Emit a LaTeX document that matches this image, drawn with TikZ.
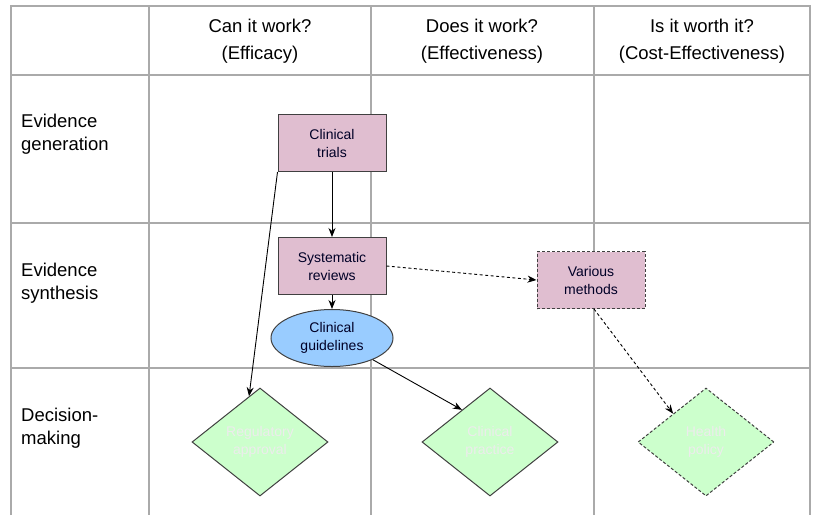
\documentclass[tikz,border=0pt]{standalone}
\usepackage{fontspec}
\setmainfont{Liberation Sans}
\usetikzlibrary{shapes.geometric,arrows.meta,calc}
\definecolor{gridgray}{RGB}{170,170,170}
\definecolor{boxpink}{RGB}{224,190,208}
\definecolor{ellblue}{RGB}{153,204,255}
\definecolor{dmgreen}{RGB}{204,255,204}
\definecolor{edgegray}{RGB}{64,64,64}
\definecolor{ghost}{RGB}{236,236,236}
\begin{document}
\begin{tikzpicture}[x=1pt,y=-1pt,
  gridline/.style={draw=gridgray,line width=1.4pt},
  head/.style={font=\fontsize{18.5}{27}\selectfont,align=center},
  rowlabel/.style={font=\fontsize{18.5}{23}\selectfont,align=left,anchor=west,inner sep=0pt},
  stepbox/.style={draw=edgegray,fill=boxpink,line width=1pt,minimum width=108pt,minimum height=57pt,
    align=center,font=\fontsize{14}{18}\selectfont,text=black!85!blue},
  guide/.style={ellipse,draw=edgegray,fill=ellblue,line width=1pt,minimum width=122pt,minimum height=57pt,
    inner sep=0pt,align=center,font=\fontsize{14}{18}\selectfont,text=black!85!blue},
  decide/.style={diamond,draw=edgegray,fill=dmgreen,line width=1pt,minimum width=136pt,minimum height=108pt,
    inner sep=0pt,aspect=1.26,align=center,font=\fontsize{14}{18}\selectfont,text=ghost},
  link/.style={draw=black,line width=0.9pt,-{Stealth[length=9pt,width=7pt]}},
  dlink/.style={link,dashed,dash pattern=on 3pt off 2.5pt}]
\useasboundingbox (0,0) rectangle (817,515);

% table grid
\draw[gridline] (11,515) -- (11,6) -- (810,6) -- (810,515);
\foreach \xx in {149,371,594} \draw[gridline] (\xx,6) -- (\xx,515);
\foreach \yy in {75,223,368} \draw[gridline] (11,\yy) -- (810,\yy);

% column headings
\node[head] (h1) at (260,41) {Can it work?\\(Efficacy)};
\node[head] (h2) at (482,41) {Does it work?\\(Effectiveness)};
\node[head] (h3) at (702,41) {Is it worth it?\\(Cost-Effectiveness)};

% row headings
\node[rowlabel] (r1) at (21,134) {Evidence\\generation};
\node[rowlabel] (r2) at (21,283) {Evidence\\synthesis};
\node[rowlabel] (r3) at (21,428) {Decision-\\making};

% process nodes
\node[stepbox] (ct) at (332,143) {Clinical\\trials};
\node[stepbox] (sr) at (332,266) {Systematic\\reviews};
\node[guide] (cg) at (332,338) {Clinical\\guidelines};
\node[stepbox,dashed,dash pattern=on 3pt off 2pt] (vm) at (591,280) {Various\\methods};

% decisions
\node[decide] (ra) at (260,442) {Regulatory\\approval};
\node[decide] (cp) at (490,442) {Clinical\\practice};
\node[decide,dashed,dash pattern=on 3pt off 2pt] (hp) at (706,442) {Health\\policy};

% connectors
\coordinate (raIn) at ($(ra.north)!0.16!(ra.west)$);
\coordinate (cpIn) at ($(cp.north)!0.41!(cp.west)$);
\coordinate (hpIn) at ($(hp.north)!0.48!(hp.west)$);
\draw[link] (ct.south west) -- (raIn);
\draw[link] (ct.south) -- (sr.north);
\draw[link] (sr.south) -- (cg.north);
\draw[dlink] (sr.east) -- (vm.west);
\draw[link] (cg.-28) -- (cpIn);
\draw[dlink] ($(vm.south)+(3,0)$) -- (hpIn);
\end{tikzpicture}
\end{document}
